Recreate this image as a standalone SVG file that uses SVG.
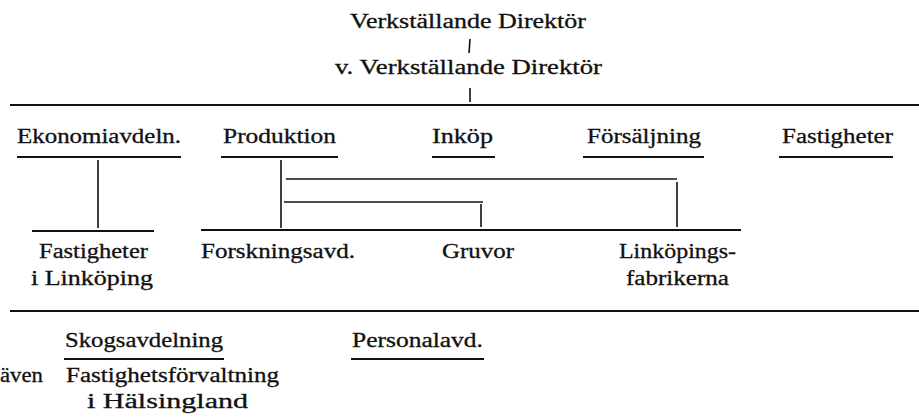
<svg xmlns="http://www.w3.org/2000/svg" width="919" height="418" viewBox="0 0 919 418">
<style>
text{font-family:"Liberation Serif","Times New Roman",serif;font-size:20.5px;fill:#111;stroke:#111;stroke-width:0.3}
.ul{stroke:#111;stroke-width:2;fill:none}
.rule{stroke:#111;stroke-width:2;fill:none}
.c{stroke:#111;stroke-width:1.6;fill:none}
</style>
<rect width="919" height="418" fill="#fff"/>
<g id="rules">
<line class="rule" x1="10" y1="105" x2="919" y2="105"/>
<line class="rule" x1="10" y1="311" x2="919" y2="311"/>
</g>
<g id="vd"><text x="350" y="28" textLength="236" lengthAdjust="spacingAndGlyphs">Verkställande Direktör</text></g>
<g id="vvd"><text x="335" y="74" textLength="267" lengthAdjust="spacingAndGlyphs">v. Verkställande Direktör</text></g>
<g id="ekonomi"><text x="17" y="143" textLength="164" lengthAdjust="spacingAndGlyphs">Ekonomiavdeln.</text><line class="ul" x1="17" y1="157" x2="181" y2="157"/></g>
<g id="produktion"><text x="223" y="143" textLength="113" lengthAdjust="spacingAndGlyphs">Produktion</text><line class="ul" x1="221" y1="157" x2="338" y2="157"/></g>
<g id="inkop"><text x="432" y="143" textLength="61" lengthAdjust="spacingAndGlyphs">Inköp</text><line class="ul" x1="432" y1="157" x2="495" y2="157"/></g>
<g id="forsaljning"><text x="587" y="143" textLength="114" lengthAdjust="spacingAndGlyphs">Försäljning</text><line class="ul" x1="583" y1="157" x2="704" y2="157"/></g>
<g id="fastigheter"><text x="782" y="143" textLength="111" lengthAdjust="spacingAndGlyphs">Fastigheter</text><line class="ul" x1="779" y1="157" x2="893" y2="157"/></g>
<g id="fast-linkoping"><line class="ul" x1="32" y1="231" x2="154" y2="231"/><text x="39" y="258" textLength="109" lengthAdjust="spacingAndGlyphs">Fastigheter</text><text x="31" y="285" textLength="122" lengthAdjust="spacingAndGlyphs">i Linköping</text></g>
<g id="forskning"><text x="201" y="258" textLength="154" lengthAdjust="spacingAndGlyphs">Forskningsavd.</text></g>
<g id="gruvor"><text x="442" y="258" textLength="72" lengthAdjust="spacingAndGlyphs">Gruvor</text></g>
<g id="linkopingsfabrikerna"><text x="619" y="258" textLength="117" lengthAdjust="spacingAndGlyphs">Linköpings-</text><text x="626" y="285" textLength="103" lengthAdjust="spacingAndGlyphs">fabrikerna</text></g>
<g id="skog"><text x="65" y="347" textLength="158" lengthAdjust="spacingAndGlyphs">Skogsavdelning</text><line class="ul" x1="64" y1="359" x2="224" y2="359"/><text x="0" y="382" textLength="43" lengthAdjust="spacingAndGlyphs">även</text><text x="66" y="382" textLength="213" lengthAdjust="spacingAndGlyphs">Fastighetsförvaltning</text><text x="87" y="408" textLength="161" lengthAdjust="spacingAndGlyphs">i Hälsingland</text></g>
<g id="personal"><text x="352" y="347" textLength="131" lengthAdjust="spacingAndGlyphs">Personalavd.</text><line class="ul" x1="351" y1="359" x2="484" y2="359"/></g>
<g id="connectors">
<line class="c" x1="470" y1="39" x2="469" y2="53"/>
<line class="c" x1="470" y1="88" x2="470" y2="102"/>
<line class="c" x1="98" y1="160" x2="98" y2="228"/>
<line class="c" x1="281" y1="160" x2="281" y2="228"/>
<line class="c" x1="286" y1="179" x2="677" y2="179"/>
<line class="c" x1="677" y1="182" x2="677" y2="227"/>
<line class="c" x1="284" y1="202" x2="483" y2="202"/>
<line class="c" x1="481" y1="204" x2="481" y2="227"/>
<line class="ul" x1="201" y1="230" x2="741" y2="230"/>
</g>
</svg>
